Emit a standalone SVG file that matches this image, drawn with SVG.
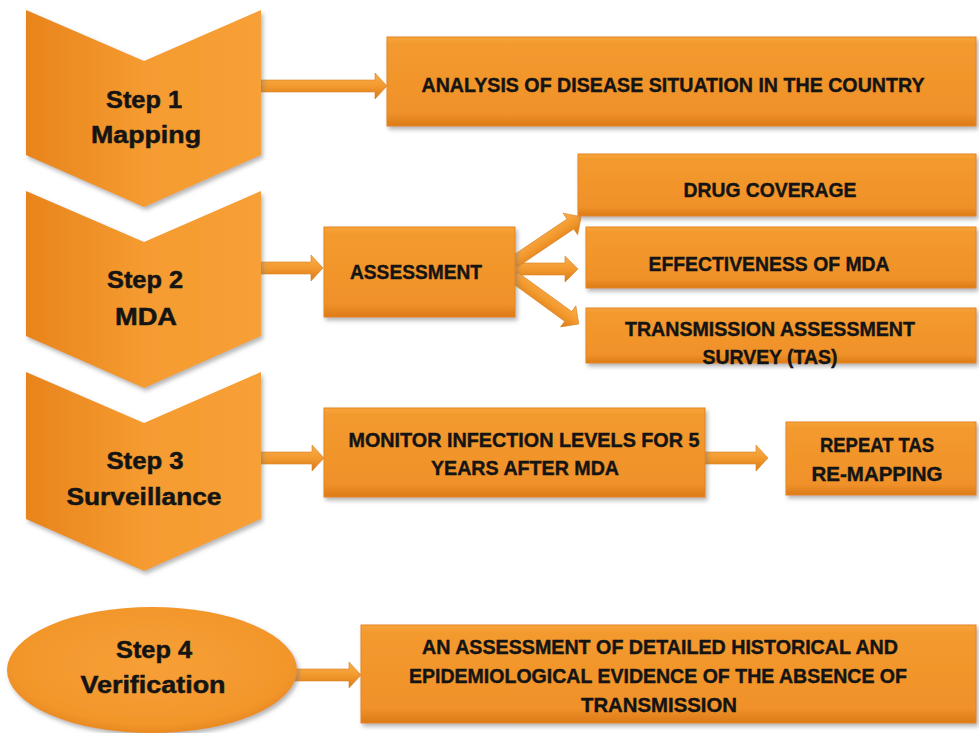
<svg xmlns="http://www.w3.org/2000/svg" width="979" height="733" viewBox="0 0 979 733">
<defs>
<linearGradient id="gH" x1="0" y1="0" x2="1" y2="0">
<stop offset="0" stop-color="#E8841C"/>
<stop offset="0.5" stop-color="#F59B30"/>
<stop offset="1" stop-color="#F7A037"/>
</linearGradient>
<linearGradient id="gBox" x1="0" y1="0" x2="0" y2="1">
<stop offset="0" stop-color="#F7A43C"/>
<stop offset="0.08" stop-color="#F39A2E"/>
<stop offset="0.85" stop-color="#F0912A"/>
<stop offset="1" stop-color="#DC7B16"/>
</linearGradient>
<linearGradient id="gArr" x1="0" y1="0" x2="0" y2="1">
<stop offset="0" stop-color="#F8AE50"/>
<stop offset="0.5" stop-color="#F39A2E"/>
<stop offset="1" stop-color="#D87A18"/>
</linearGradient>
<radialGradient id="gEl" cx="0.5" cy="0.45" r="0.6">
<stop offset="0" stop-color="#F7A037"/>
<stop offset="0.8" stop-color="#F2962B"/>
<stop offset="1" stop-color="#E2801A"/>
</radialGradient>
<filter id="sh" x="-10%" y="-10%" width="125%" height="135%">
<feDropShadow dx="2" dy="3" stdDeviation="2" flood-color="#7a7a7a" flood-opacity="0.55"/>
</filter>
</defs>
<style>
.chev{fill:url(#gH);filter:url(#sh);}
.box{fill:url(#gBox);stroke:#E4851E;stroke-width:1;filter:url(#sh);}
.arr{fill:url(#gArr);stroke:#D98020;stroke-width:0.6;}
.st{font-family:"Liberation Sans",Arial,sans-serif;font-weight:bold;font-size:24px;fill:#141414;stroke:#141414;stroke-width:0.5;text-anchor:middle;}
.bt{font-family:"Liberation Sans",Arial,sans-serif;font-weight:bold;font-size:19.5px;fill:#141414;stroke:#141414;stroke-width:0.4;text-anchor:middle;}
</style>
<rect width="979" height="733" fill="#ffffff"/>

<g id="connectors">
<polygon class="arr" points="261,80 375,80 375,73 387,86 375,99 375,92 261,92"/>
<polygon class="arr" points="258,262 311,262 311,255 323,268 311,281 311,274 258,274"/>
<polygon class="arr" points="512,263 565,263 565,256 578,269 565,282 565,275 512,275"/>
<polygon class="arr" transform="translate(514,262) rotate(-34)" points="0,-6 68,-6 68,-13 81,0 68,13 68,6 0,6"/>
<polygon class="arr" transform="translate(514,277) rotate(36)" points="0,-6 67,-6 67,-13 80,0 67,13 67,6 0,6"/>
<polygon class="arr" points="258,452 312,452 312,445 324,458 312,471 312,464 258,464"/>
<polygon class="arr" points="702,452 756,452 756,445 768,458 756,471 756,464 702,464"/>
<polygon class="arr" points="290,669 349,669 349,662 361,675 349,688 349,681 290,681"/>
</g>

<g id="step1">
<polygon class="chev" points="26,10 144,61 261,10 261,155 144,207 26,155"/>
<text class="st" x="144" y="108" textLength="76" lengthAdjust="spacingAndGlyphs">Step 1</text>
<text class="st" x="146" y="143" textLength="110" lengthAdjust="spacingAndGlyphs">Mapping</text>
</g>
<g id="step2">
<polygon class="chev" points="26,191 144,242 261,191 261,336 144,388 26,336"/>
<text class="st" x="145" y="288" textLength="76" lengthAdjust="spacingAndGlyphs">Step 2</text>
<text class="st" x="146" y="325" textLength="62" lengthAdjust="spacingAndGlyphs">MDA</text>
</g>
<g id="step3">
<polygon class="chev" points="26,372 144,423 261,372 261,519 144,571 26,519"/>
<text class="st" x="145" y="469" textLength="77" lengthAdjust="spacingAndGlyphs">Step 3</text>
<text class="st" x="144" y="505" textLength="155" lengthAdjust="spacingAndGlyphs">Surveillance</text>
</g>
<g id="step4">
<ellipse cx="152" cy="670" rx="145" ry="63" fill="url(#gEl)" filter="url(#sh)"/>
<text class="st" x="154" y="658" textLength="76" lengthAdjust="spacingAndGlyphs">Step 4</text>
<text class="st" x="153" y="693" textLength="145" lengthAdjust="spacingAndGlyphs">Verification</text>
</g>

<g id="analysis">
<rect class="box" x="387" y="37" width="589" height="89"/>
<text class="bt" x="673" y="92" textLength="503" lengthAdjust="spacingAndGlyphs">ANALYSIS OF DISEASE SITUATION IN THE COUNTRY</text>
</g>
<g id="assessment">
<rect class="box" x="324" y="227" width="191" height="90"/>
<text class="bt" x="416" y="279" textLength="132" lengthAdjust="spacingAndGlyphs">ASSESSMENT</text>
</g>
<g id="drug">
<rect class="box" x="578" y="154" width="398" height="62"/>
<text class="bt" x="770" y="197" textLength="173" lengthAdjust="spacingAndGlyphs">DRUG  COVERAGE</text>
</g>
<g id="effectiveness">
<rect class="box" x="586" y="227" width="390" height="61"/>
<text class="bt" x="769" y="271" textLength="241" lengthAdjust="spacingAndGlyphs">EFFECTIVENESS OF MDA</text>
</g>
<g id="tas">
<rect class="box" x="586" y="308" width="390" height="55"/>
<text class="bt" x="770" y="336" textLength="290" lengthAdjust="spacingAndGlyphs">TRANSMISSION ASSESSMENT</text>
<text class="bt" x="770" y="364" textLength="135" lengthAdjust="spacingAndGlyphs">SURVEY (TAS)</text>
</g>
<g id="monitor">
<rect class="box" x="324" y="408" width="381" height="89"/>
<text class="bt" x="524" y="447" textLength="351" lengthAdjust="spacingAndGlyphs">MONITOR INFECTION LEVELS FOR 5</text>
<text class="bt" x="525" y="475" textLength="188" lengthAdjust="spacingAndGlyphs">YEARS AFTER MDA</text>
</g>
<g id="repeat">
<rect class="box" x="786" y="422" width="190" height="73"/>
<text class="bt" x="877" y="452" textLength="114" lengthAdjust="spacingAndGlyphs">REPEAT TAS</text>
<text class="bt" x="877" y="481" textLength="131" lengthAdjust="spacingAndGlyphs">RE-MAPPING</text>
</g>
<g id="verification-box">
<rect class="box" x="361" y="625" width="615" height="98"/>
<text class="bt" x="660" y="654" textLength="476" lengthAdjust="spacingAndGlyphs">AN ASSESSMENT OF DETAILED HISTORICAL AND</text>
<text class="bt" x="658" y="683" textLength="498" lengthAdjust="spacingAndGlyphs">EPIDEMIOLOGICAL EVIDENCE OF THE ABSENCE OF</text>
<text class="bt" x="659" y="712" textLength="156" lengthAdjust="spacingAndGlyphs">TRANSMISSION</text>
</g>
</svg>
